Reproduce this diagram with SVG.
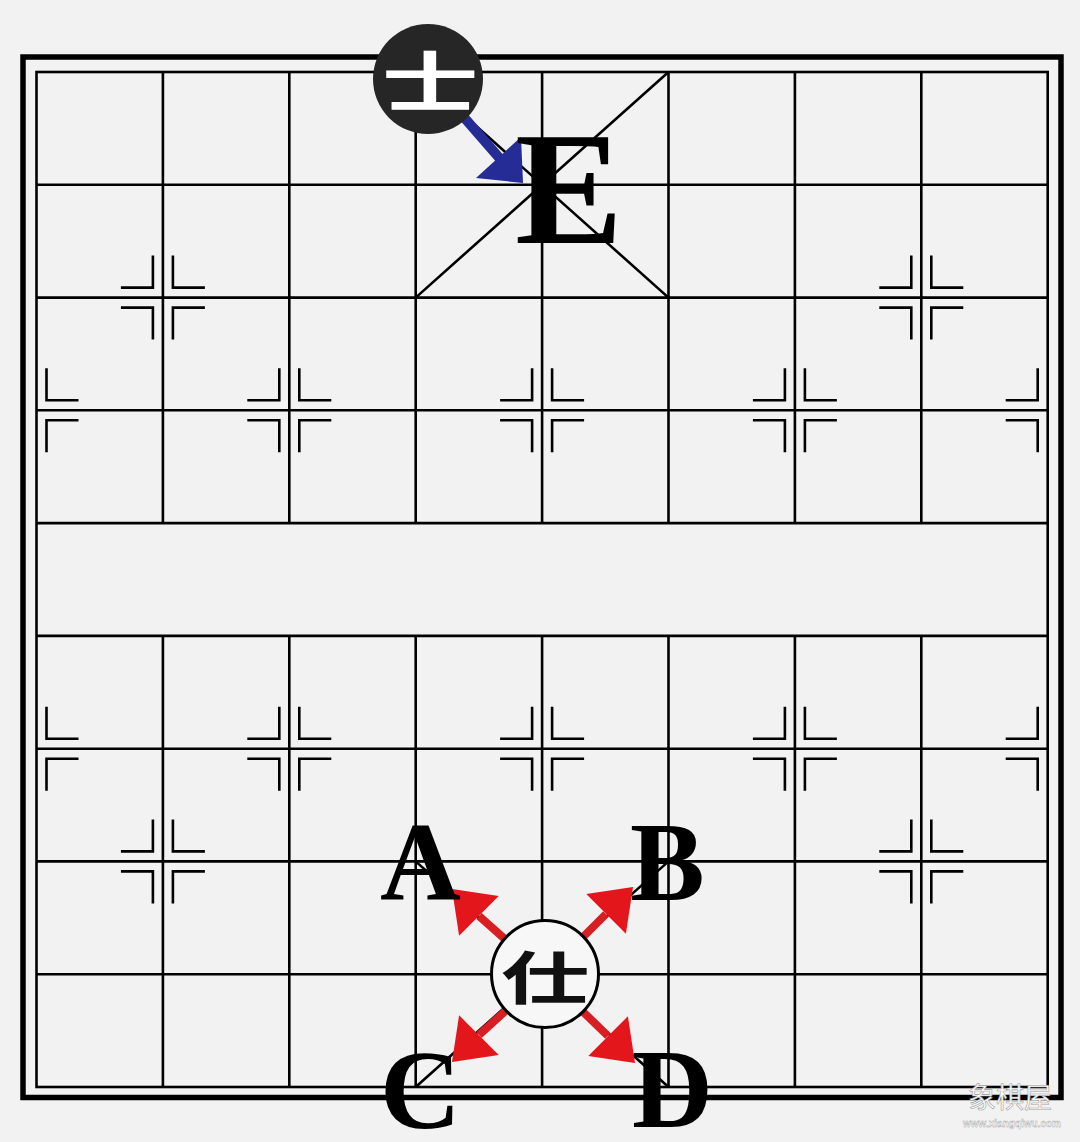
<svg xmlns="http://www.w3.org/2000/svg" width="1080" height="1142" viewBox="0 0 1080 1142">
<style>
.g{stroke:#000;stroke-width:2.6;fill:none}
.m{stroke:#000;stroke-width:2.6;fill:none}
.lt{font-family:"Liberation Serif",serif;font-weight:bold;fill:#000}
</style>
<rect width="1080" height="1142" fill="#f2f2f2"/>
<g id="board">
<rect x="23" y="57" width="1038" height="1040.5" fill="none" stroke="#000" stroke-width="5.5"/>
<rect x="36.5" y="72" width="1011.2" height="1015" class="g"/>
<path class="g" d="M36.5 184.8H1047.7M36.5 297.6H1047.7M36.5 410.3H1047.7M36.5 523.1H1047.7M36.5 635.9H1047.7M36.5 748.7H1047.7M36.5 861.4H1047.7M36.5 974.2H1047.7"/>
<path class="g" d="M162.9 72V523.1M289.3 72V523.1M415.7 72V523.1M542.1 72V523.1M668.5 72V523.1M794.9 72V523.1M921.3 72V523.1M162.9 635.9V1087M289.3 635.9V1087M415.7 635.9V1087M542.1 635.9V1087M668.5 635.9V1087M794.9 635.9V1087M921.3 635.9V1087"/>
<path class="g" d="M415.7 72L668.5 297.6M668.5 72L415.7 297.6M415.7 861.4L668.5 1087M668.5 861.4L415.7 1087"/>
</g>
<g id="markers" class="m">
<path d="M152.9 255.6V287.6H120.9M172.9 255.6V287.6H204.9M152.9 339.6V307.6H120.9M172.9 339.6V307.6H204.9"/>
<path d="M911.3 255.6V287.6H879.3M931.3 255.6V287.6H963.3M911.3 339.6V307.6H879.3M931.3 339.6V307.6H963.3"/>
<path d="M152.9 819.4V851.4H120.9M172.9 819.4V851.4H204.9M152.9 903.4V871.4H120.9M172.9 903.4V871.4H204.9"/>
<path d="M911.3 819.4V851.4H879.3M931.3 819.4V851.4H963.3M911.3 903.4V871.4H879.3M931.3 903.4V871.4H963.3"/>
<path d="M46.5 368.3V400.3H78.5M46.5 452.3V420.3H78.5"/>
<path d="M279.3 368.3V400.3H247.3M299.3 368.3V400.3H331.3M279.3 452.3V420.3H247.3M299.3 452.3V420.3H331.3"/>
<path d="M532.1 368.3V400.3H500.1M552.1 368.3V400.3H584.1M532.1 452.3V420.3H500.1M552.1 452.3V420.3H584.1"/>
<path d="M784.9 368.3V400.3H752.9M804.9 368.3V400.3H836.9M784.9 452.3V420.3H752.9M804.9 452.3V420.3H836.9"/>
<path d="M1037.7 368.3V400.3H1005.7M1037.7 452.3V420.3H1005.7"/>
<path d="M46.5 706.7V738.7H78.5M46.5 790.7V758.7H78.5"/>
<path d="M279.3 706.7V738.7H247.3M299.3 706.7V738.7H331.3M279.3 790.7V758.7H247.3M299.3 790.7V758.7H331.3"/>
<path d="M532.1 706.7V738.7H500.1M552.1 706.7V738.7H584.1M532.1 790.7V758.7H500.1M552.1 790.7V758.7H584.1"/>
<path d="M784.9 706.7V738.7H752.9M804.9 706.7V738.7H836.9M784.9 790.7V758.7H752.9M804.9 790.7V758.7H836.9"/>
<path d="M1037.7 706.7V738.7H1005.7M1037.7 790.7V758.7H1005.7"/>
</g>
<g id="connectors">
<line x1="455" y1="107" x2="502" y2="161" stroke="#262c96" stroke-width="10"/>
<polygon points="523,183 476,178 521,137" fill="#262c96"/>
<g stroke="#d81e22" stroke-width="8">
<line x1="545" y1="975" x2="479" y2="916"/>
<line x1="545" y1="975" x2="606" y2="914"/>
<line x1="545" y1="975" x2="479" y2="1035"/>
<line x1="545" y1="975" x2="608" y2="1036"/>
</g>
<g fill="#e3161c">
<polygon points="452,889 498.7,896.1 459.1,935.7"/>
<polygon points="633,887 625.9,933.7 586.3,894.1"/>
<polygon points="452,1062 498.7,1054.9 459.1,1015.3"/>
<polygon points="635,1063 627.9,1016.3 588.3,1055.9"/>
</g>
</g>
<g id="piece-black">
<circle cx="428" cy="79" r="55" fill="#262626"/>
<g transform="translate(430,78) scale(1.05,0.7)">
<text x="0" y="0" text-anchor="middle" dominant-baseline="central" font-family="'Noto Sans CJK SC',sans-serif" font-weight="700" font-size="92" fill="#fff">士</text>
</g>
</g>
<g id="piece-red">
<circle cx="545" cy="974" r="53.5" fill="#f7f7f7" stroke="#000" stroke-width="3"/>
<g transform="translate(545,974) scale(1.05,0.68)">
<text x="0" y="0" text-anchor="middle" dominant-baseline="central" font-family="'Noto Sans CJK SC',sans-serif" font-weight="700" font-size="84" fill="#111">仕</text>
</g>
</g>
<g id="labels">
<text class="lt" x="515" y="243" font-size="162">E</text>
<text class="lt" x="380" y="900" font-size="112">A</text>
<text class="lt" x="630" y="900" font-size="112">B</text>
<text class="lt" x="380" y="1128" font-size="112">C</text>
<text class="lt" x="632" y="1127" font-size="112">D</text>
</g>
<g id="watermark" fill="#fff" stroke="#a0a0a0">
<text x="968" y="1108" font-family="'Noto Sans CJK SC',sans-serif" font-size="28" stroke-width="0.6">象棋屋</text>
<text x="963" y="1127" font-family="'Liberation Sans',sans-serif" font-weight="bold" font-size="10" stroke-width="0.4">www.xiangqiwu.com</text>
</g>
</svg>
